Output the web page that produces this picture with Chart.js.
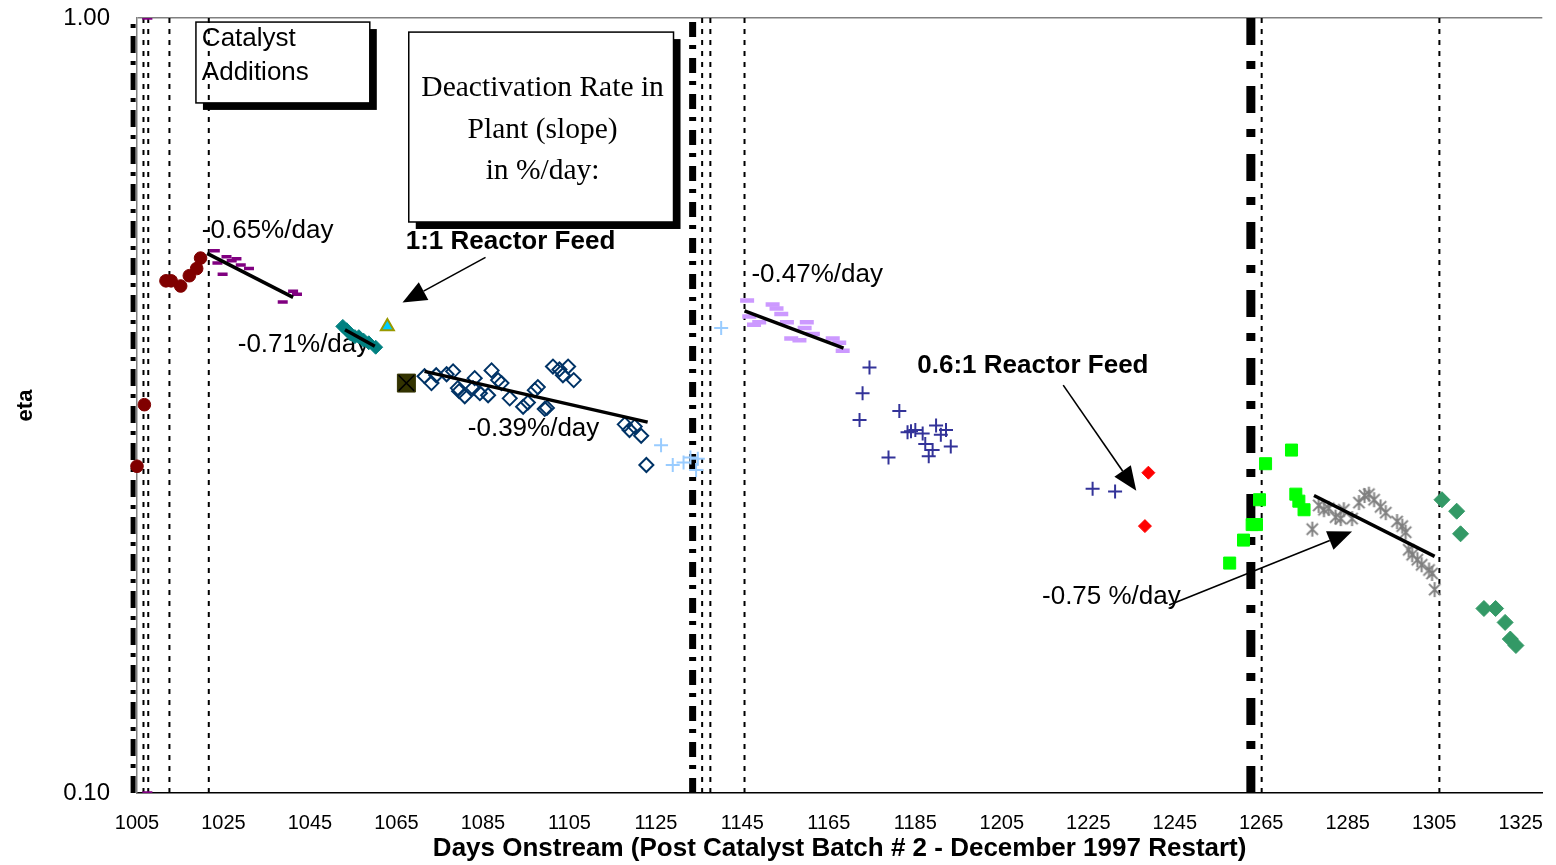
<!DOCTYPE html>
<html>
<head>
<meta charset="utf-8">
<title>eta vs days onstream</title>
<script src="https://cdn.jsdelivr.net/npm/chart.js@4.4.1/dist/chart.umd.min.js"></script>
<style>
  html, body { margin: 0; padding: 0; background: #fff; }
  #wrap { width: 1556px; height: 865px; }
</style>
</head>
<body>
<div id="wrap"><canvas id="etaChart" width="1556" height="865"></canvas></div>
<script>
// ---- data ----
const xTicks = [1005, 1025, 1045, 1065, 1085, 1105, 1125, 1145, 1165, 1185, 1205, 1225, 1245, 1265, 1285, 1305, 1325];
const yTicks = [0.1, 1.0];

const circleDays = [1005.0, 1006.7, 1011.7, 1012.9, 1015.1, 1017.1, 1018.8, 1019.7];
const circleEta  = [0.264, 0.317, 0.458, 0.458, 0.451, 0.465, 0.475, 0.490];

const purpleDays = [1007.4, 1007.4, 1023.0, 1023.6, 1024.8, 1025.7, 1026.9, 1028.0, 1029.0, 1030.9, 1038.7, 1041.1, 1042.0];
const purpleEta  = [1.00, 0.10, 0.501, 0.483, 0.467, 0.492, 0.486, 0.489, 0.480, 0.475, 0.430, 0.444, 0.440];

const tealDays = [1052.6, 1053.5, 1054.4, 1055.4, 1056.3, 1057.4, 1058.6, 1060.2];
const tealEta  = [0.400, 0.396, 0.391, 0.388, 0.388, 0.384, 0.381, 0.376];

const triangleDays = [1062.9];
const triangleEta  = [0.400];

const boxedDays = [1067.3];
const boxedEta  = [0.338];

const diamondDays = [1071.5, 1073.1, 1074.2, 1076.6, 1078.1, 1079.2, 1079.5, 1080.8, 1082.7, 1083.1, 1084.3, 1086.2, 1087.0, 1088.5, 1089.3, 1091.2,
                     1094.3, 1095.4, 1097.0, 1097.7, 1099.3, 1099.8, 1101.2, 1102.7, 1103.5, 1104.7, 1106.0, 1117.8, 1118.9, 1120.1, 1121.6, 1122.8];
const diamondEta  = [0.345, 0.338, 0.346, 0.347, 0.350, 0.333, 0.330, 0.325, 0.333, 0.343, 0.328, 0.326, 0.351, 0.341, 0.338, 0.323,
                     0.315, 0.319, 0.331, 0.334, 0.313, 0.314, 0.355, 0.352, 0.346, 0.355, 0.341, 0.299, 0.294, 0.297, 0.289, 0.265];

const skyDays = [1126.2, 1128.9, 1131.4, 1133.0, 1134.3, 1134.7, 1140.1];
const skyEta  = [0.281, 0.265, 0.267, 0.271, 0.261, 0.270, 0.398];

const lavenderDays = [1146.1, 1146.6, 1147.7, 1148.9, 1152.0, 1152.9, 1154.0, 1155.3, 1156.3, 1158.2, 1159.4, 1159.9, 1161.3, 1165.9, 1167.4, 1168.2];
const lavenderEta  = [0.432, 0.412, 0.402, 0.405, 0.427, 0.422, 0.415, 0.405, 0.386, 0.384, 0.398, 0.405, 0.391, 0.386, 0.381, 0.372];

const navyDays = [1172.1, 1172.8, 1174.4, 1178.8, 1181.3, 1183.2, 1184.0, 1185.0, 1186.7, 1187.3, 1188.1, 1189.0, 1189.8, 1190.9, 1192.1, 1193.2, 1226.0, 1231.2];
const navyEta  = [0.303, 0.328, 0.354, 0.271, 0.311, 0.292, 0.293, 0.294, 0.291, 0.282, 0.272, 0.277, 0.298, 0.290, 0.294, 0.280, 0.247, 0.245];

const redDays = [1238.9, 1238.1];
const redEta  = [0.259, 0.221];

const greenDays = [1257.7, 1260.9, 1262.9, 1263.9, 1264.6, 1266.0, 1272.0, 1273.0, 1273.7, 1274.9];
const greenEta  = [0.198, 0.212, 0.222, 0.222, 0.239, 0.266, 0.277, 0.243, 0.238, 0.232];

const greyDays = [1276.8, 1278.3, 1279.5, 1280.6, 1282.2, 1283.4, 1284.1, 1286.0, 1287.6, 1288.9, 1289.9, 1291.1,
                  1292.6, 1293.8, 1296.4, 1297.6, 1298.4, 1299.1, 1299.9, 1301.1, 1302.1, 1303.8, 1304.5, 1305.1];
const greyEta  = [0.219, 0.235, 0.232, 0.233, 0.227, 0.226, 0.232, 0.226, 0.237, 0.242, 0.243, 0.239,
                  0.234, 0.230, 0.224, 0.221, 0.217, 0.206, 0.203, 0.200, 0.197, 0.194, 0.192, 0.183];

const seaDays = [1306.8, 1310.2, 1311.1, 1316.5, 1319.2, 1321.4, 1322.6, 1323.9];
const seaEta  = [0.239, 0.231, 0.216, 0.173, 0.173, 0.166, 0.158, 0.155];

// fitted slopes (start / end of each line)
const trendDays = [[1021.2, 1041.1], [1053.1, 1060.0], [1071.5, 1123.1], [1145.5, 1168.4], [1277.2, 1305.1]];
const trendEta  = [[0.497, 0.436], [0.396, 0.377], [0.350, 0.301], [0.419, 0.375], [0.242, 0.202]];
const rateLabels = ['-0.65%/day', '-0.71%/day', '-0.39%/day', '-0.47%/day', '-0.75 %/day'];

// catalyst additions
const dottedDays  = [1006.5, 1007.6, 1012.5, 1021.6, 1135.7, 1137.6, 1145.5, 1265.1, 1306.2];
const dashDotDays = [1004.1, 1133.5, 1262.6];

// ---- styling ----
const dashDotStyle = [
  { width: 5, dash: [17, 8, 4, 8] },
  { width: 7, dash: [15, 9, 4, 8] },
  { width: 9, dash: [27, 17, 8, 16] }
];

const SANS = '"Liberation Sans", Arial, sans-serif';
const SERIF = '"Liberation Serif", "Times New Roman", serif';

function pts(days, eta) {
  return days.map((d, i) => ({ x: d, y: eta[i] }));
}

function asterisk(size, color) {
  const c = document.createElement('canvas');
  c.width = c.height = size;
  const g = c.getContext('2d');
  const m = size / 2, r = size / 2 - 1;
  g.strokeStyle = color;
  g.lineWidth = 2;
  g.beginPath();
  g.moveTo(m, m - r); g.lineTo(m, m + r);
  g.moveTo(m - r * 0.75, m - r * 0.75); g.lineTo(m + r * 0.75, m + r * 0.75);
  g.moveTo(m + r * 0.75, m - r * 0.75); g.lineTo(m - r * 0.75, m + r * 0.75);
  g.stroke();
  return c;
}

function marker(days, eta, opts) {
  return Object.assign({
    data: pts(days, eta),
    showLine: false,
    borderWidth: 1,
    order: 1
  }, opts);
}

const datasets = [];

// trend lines on top
trendDays.forEach((d, i) => {
  datasets.push({
    data: pts(d, trendEta[i]),
    showLine: true, pointRadius: 0, borderColor: '#000', borderWidth: 3.5, order: 0
  });
});

datasets.push(
  marker(circleDays, circleEta, { pointStyle: 'circle', pointRadius: 6.3, backgroundColor: '#800000', borderColor: '#800000', clip: false }),
  marker(purpleDays, purpleEta, { pointStyle: 'line', pointRadius: 5, borderColor: '#800080', pointBorderWidth: 3.5 }),
  marker(tealDays, tealEta, { pointStyle: 'rectRot', pointRadius: 7, backgroundColor: '#008080', borderColor: '#008080' }),
  marker(triangleDays, triangleEta, { pointStyle: 'triangle', pointRadius: 7.5, backgroundColor: '#00CCFF', borderColor: '#999900', pointBorderWidth: 2 }),
  marker(boxedDays, boxedEta, { pointStyle: 'crossRot', pointRadius: 11, borderColor: '#000', pointBorderWidth: 1.5, order: 0.5 }),
  marker(boxedDays, boxedEta, { pointStyle: 'rect', pointRadius: 12.7, backgroundColor: '#333300', borderColor: '#333300' }),
  marker(diamondDays, diamondEta, { pointStyle: 'rectRot', pointRadius: 7, backgroundColor: 'rgba(0,0,0,0)', borderColor: '#003366', pointBorderWidth: 2 }),
  marker(skyDays, skyEta, { pointStyle: 'cross', pointRadius: 7, borderColor: '#99CCFF', pointBorderWidth: 2 }),
  marker(lavenderDays, lavenderEta, { pointStyle: 'line', pointRadius: 7, borderColor: '#CC99FF', pointBorderWidth: 4.5 }),
  marker(navyDays, navyEta, { pointStyle: 'cross', pointRadius: 7, borderColor: '#333399', pointBorderWidth: 2 }),
  marker(redDays, redEta, { pointStyle: 'rectRot', pointRadius: 6.5, backgroundColor: '#FF0000', borderColor: '#FF0000' }),
  marker(greenDays, greenEta, { pointStyle: 'rect', pointRadius: 8.5, backgroundColor: '#00FF00', borderColor: '#00FF00' }),
  marker(greyDays, greyEta, { pointStyle: asterisk(17, '#808080'), pointRadius: 8 }),
  marker(seaDays, seaEta, { pointStyle: 'rectRot', pointRadius: 8, backgroundColor: '#339966', borderColor: '#339966' })
);

// catalyst addition lines underneath
dottedDays.forEach(d => {
  datasets.push({
    data: pts([d, d], [0.1, 1.0]),
    showLine: true, pointRadius: 0, borderColor: '#000', borderWidth: 2, borderDash: [5, 6], order: 2, clip: false
  });
});
dashDotDays.forEach((d, i) => {
  datasets.push({
    data: pts([d, d], [0.1, 1.0]),
    showLine: true, pointRadius: 0, borderColor: '#000', borderWidth: dashDotStyle[i].width,
    borderDash: dashDotStyle[i].dash, borderCapStyle: 'butt', order: 2, clip: false
  });
});

// ---- text boxes, slope labels and arrows ----
const notes = {
  id: 'notes',
  beforeDatasetsDraw(chart) {
    const ctx = chart.ctx;
    const X = d => chart.scales.x.getPixelForValue(d);
    const Y = v => chart.scales.y.getPixelForValue(v);
    ctx.save();

    // boxes with drop shadow
    const box = (d0, d1, v0, v1) => {
      const l = X(d0), r = X(d1), t = Y(v0), b = Y(v1);
      ctx.fillStyle = '#000';
      ctx.fillRect(l + 7, t + 7, r - l, b - t);
      ctx.fillStyle = '#fff';
      ctx.fillRect(l, t, r - l, b - t);
      ctx.strokeStyle = '#000';
      ctx.lineWidth = 1.5;
      ctx.strokeRect(l, t, r - l, b - t);
    };
    box(1018.63, 1058.84, 0.988, 0.777);
    box(1067.85, 1129.08, 0.959, 0.5455);

    ctx.fillStyle = '#000';
    ctx.textBaseline = 'middle';
    ctx.textAlign = 'left';
    ctx.font = '26px ' + SANS;
    ctx.fillText('Catalyst', X(1020.0), Y(0.9395));
    ctx.fillText('Additions', X(1020.0), Y(0.849));

    ctx.textAlign = 'center';
    ctx.font = '29.5px ' + SERIF;
    ctx.fillText('Deactivation Rate in', X(1098.8), Y(0.8124));
    ctx.fillText('Plant (slope)', X(1098.8), Y(0.7169));
    ctx.fillText('in %/day:', X(1098.8), Y(0.6345));

    // slope labels
    ctx.textAlign = 'left';
    ctx.font = '26px ' + SANS;
    const labelAt = [[1020.0, 0.531], [1028.3, 0.3785], [1081.5, 0.2949], [1147.1, 0.466], [1214.3, 0.179]];
    rateLabels.forEach((t, i) => ctx.fillText(t, X(labelAt[i][0]), Y(labelAt[i][1])));

    ctx.font = 'bold 26px ' + SANS;
    ctx.fillText('1:1 Reactor Feed', X(1067.15), Y(0.514));
    ctx.fillText('0.6:1 Reactor Feed', X(1185.45), Y(0.3556));
    ctx.restore();
  },
  afterDatasetsDraw(chart) {
    const ctx = chart.ctx;
    const X = d => chart.scales.x.getPixelForValue(d);
    const Y = v => chart.scales.y.getPixelForValue(v);
    const arrow = (d0, v0, d1, v1) => {
      const x0 = X(d0), y0 = Y(v0), x1 = X(d1), y1 = Y(v1);
      const a = Math.atan2(y1 - y0, x1 - x0);
      const len = 24, half = 10;
      const bx = x1 - Math.cos(a) * len, by = y1 - Math.sin(a) * len;
      ctx.beginPath();
      ctx.moveTo(x0, y0);
      ctx.lineTo(bx, by);
      ctx.stroke();
      ctx.beginPath();
      ctx.moveTo(x1, y1);
      ctx.lineTo(bx + Math.sin(a) * half, by - Math.cos(a) * half);
      ctx.lineTo(bx - Math.sin(a) * half, by + Math.cos(a) * half);
      ctx.closePath();
      ctx.fill();
    };
    ctx.save();
    ctx.strokeStyle = '#000';
    ctx.fillStyle = '#000';
    ctx.lineWidth = 1.6;
    arrow(1085.6, 0.491, 1066.4, 0.4293);
    arrow(1219.2, 0.336, 1236.1, 0.2455);
    arrow(1243.7, 0.1748, 1286.0, 0.2174);
    ctx.restore();
  }
};

new Chart(document.getElementById('etaChart'), {
  type: 'scatter',
  data: { datasets },
  options: {
    responsive: false,
    animation: false,
    layout: { padding: { left: 0, right: 12, top: 18, bottom: 0 } },
    plugins: { legend: { display: false }, tooltip: { enabled: false } },
    scales: {
      x: {
        type: 'linear',
        min: 1005,
        max: 1330,
        afterBuildTicks: axis => { axis.ticks = xTicks.map(v => ({ value: v })); },
        afterFit: axis => { axis.height = 72; axis.paddingLeft = 0; axis.paddingRight = 0; },
        grid: { display: false, drawTicks: false },
        border: { color: '#000', width: 1.5 },
        ticks: {
          autoSkip: false, maxRotation: 0, padding: 18, color: '#000',
          font: { family: SANS, size: 20 },
          callback: v => String(v)
        },
        title: {
          display: true,
          text: 'Days Onstream (Post Catalyst Batch # 2 - December 1997 Restart)',
          color: '#000',
          font: { family: SANS, size: 26, weight: 'bold' },
          padding: { top: 0, bottom: 0.5 }
        }
      },
      y: {
        type: 'logarithmic',
        min: 0.1,
        max: 1.0,
        afterBuildTicks: axis => { axis.ticks = yTicks.map(v => ({ value: v })); },
        afterFit: axis => { axis.width = 137; axis.paddingTop = 0; axis.paddingBottom = 0; },
        grid: {
          drawTicks: false,
          color: c => (c.tick && c.tick.value === 1 ? '#808080' : 'rgba(0,0,0,0)'),
          lineWidth: 1.5
        },
        border: { color: '#808080', width: 1.5 },
        ticks: {
          padding: 27, color: '#000',
          font: { family: SANS, size: 24 },
          callback: v => Number(v).toFixed(2)
        },
        title: {
          display: true,
          text: 'eta',
          color: '#000',
          font: { family: SANS, size: 22, weight: 'bold' },
          padding: { top: 13, bottom: 0 }
        }
      }
    }
  },
  plugins: [notes]
});
</script>
</body>
</html>
